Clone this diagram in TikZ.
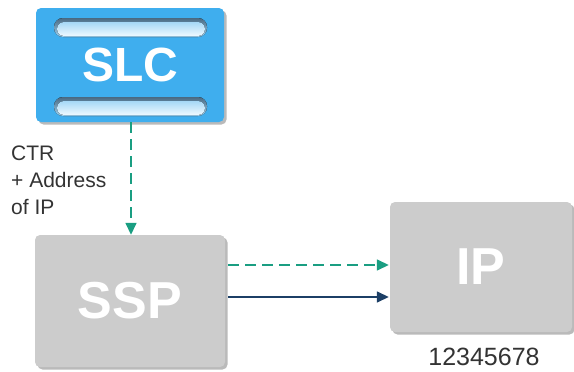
\documentclass[tikz,border=0pt]{standalone}
\usepackage{fontspec}
\setmainfont{Liberation Sans}
\usetikzlibrary{arrows.meta,shadows}
\definecolor{slcblue}{HTML}{3FAEEE}
\definecolor{bartop}{HTML}{4A6A82}
\definecolor{barbot}{HTML}{9CD2F2}
\definecolor{barin}{HTML}{A6D8F6}
\definecolor{barinb}{HTML}{EEF9FF}
\definecolor{boxgray}{HTML}{CCCCCC}
\definecolor{teal}{HTML}{1A9E82}
\definecolor{navy}{HTML}{1C3F66}
\definecolor{txt}{HTML}{333333}
\tikzset{
  box/.style={rounded corners=5pt, inner sep=0pt, text=white,
    font=\bfseries\fontsize{52}{52}\selectfont,
    drop shadow={shadow xshift=2.5pt, shadow yshift=-2.5pt, fill=black!45, opacity=0.6}},
  slcbox/.style={box, fill=slcblue, font=\bfseries\fontsize{48}{48}\selectfont},
  graybox/.style={box, fill=boxgray},
  barout/.style={rounded corners=9pt, top color=bartop, bottom color=barbot},
  barinner/.style={rounded corners=7pt, top color=barin, bottom color=barinb},
  dasharrow/.style={teal, line width=1.5pt, dash pattern=on 11pt off 6pt, -{Triangle[length=12pt,width=11pt]}},
  solidarrow/.style={navy, line width=1.5pt, -{Triangle[length=12pt,width=11pt]}},
  lbl/.style={text=txt, font=\fontsize{21}{27}\selectfont, inner sep=0pt},
}
\begin{document}
\begin{tikzpicture}[x=1pt,y=-1pt]
\useasboundingbox (0,0) rectangle (574,372);
\node[slcbox, minimum width=188pt, minimum height=114pt] (SLC) at (130,65) {SLC};
\fill[barout] (54,18) rectangle (207,37);
\fill[barinner] (57,22) rectangle (205,36);
\fill[barout] (54,97) rectangle (207,116);
\fill[barinner] (57,101) rectangle (205,115);
\node[graybox, minimum width=190pt, minimum height=132pt] (SSP) at (130,301) {SSP};
\node[graybox, minimum width=182pt, minimum height=130pt] (IP) at (481,267) {IP};
\node[lbl, anchor=north west, align=left] (lab) at (11,146) {CTR\\+ Address\\of IP};
\node[lbl, font=\fontsize{25}{25}\selectfont] (num) at (484,357) {12345678};
\draw[dasharrow] (SLC.south -| 131,0) -- (SSP.north -| 131,0);
\draw[dasharrow] ([xshift=3pt]SSP.east |- 0,265) -- ([xshift=-1pt]IP.west |- 0,265);
\draw[solidarrow] ([xshift=3pt]SSP.east |- 0,297) -- ([xshift=-1pt]IP.west |- 0,297);
\end{tikzpicture}
\end{document}
